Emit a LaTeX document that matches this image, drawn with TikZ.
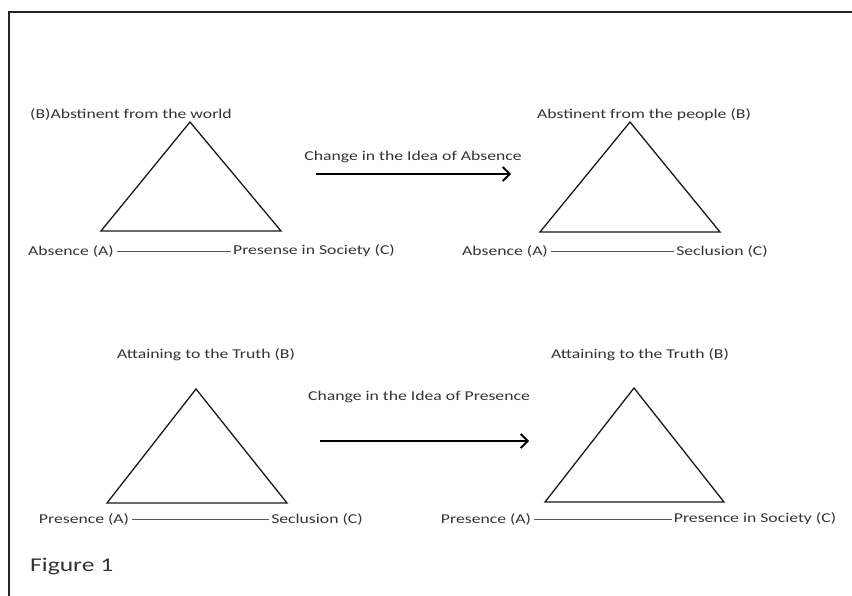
\documentclass[tikz,border=0pt]{standalone}
\usepackage{fontspec}
\setmainfont{Carlito}[FakeStretch=1.31]
\usetikzlibrary{arrows.meta}
\begin{document}
\begin{tikzpicture}[x=1pt,y=-1pt,
  lbl/.style={inner sep=0pt,font=\fontsize{13.5}{15}\selectfont,text=black!80},
  figlbl/.style={inner sep=0pt,font=\fontsize{19.5}{22}\selectfont,text=black!80,anchor=west},
  tri/.style={draw=black!90,line width=1.3pt,line join=miter},
  link/.style={draw=black!65,line width=0.6pt,shorten <=3pt,shorten >=2pt},
  shiftarrow/.style={draw=black,line width=2pt,-{Straight Barb[length=7pt,width=14pt,line width=1.8pt]}}]
\useasboundingbox (0,0) rectangle (852,596);
% frame
\draw[line width=1.6pt,black!85] (9,596) -- (9,12) -- (852,12);
% ---------- top left ----------
\coordinate (t1b) at (190,122);
\coordinate (t1a) at (101,231);
\coordinate (t1c) at (281,231);
\draw[tri] (t1a) -- (t1b) -- (t1c) -- cycle;
\node[lbl] (b1) at (131,115) {(B)Abstinent from the world};
\node[lbl] (a1) at (71,251) {Absence (A)};
\node[lbl] (c1) at (314,251) {Presense in Society (C)};
\draw[link] (a1.east) -- (c1.west);
% ---------- top arrow ----------
\node[lbl] (h1) at (413,157) {Change in the Idea of Absence};
\coordinate (s1) at (316,174);
\coordinate (e1) at (511,174);
\draw[shiftarrow] (s1) -- (e1);
% ---------- top right ----------
\coordinate (t2b) at (630,122);
\coordinate (t2a) at (540,232);
\coordinate (t2c) at (720,232);
\draw[tri] (t2a) -- (t2b) -- (t2c) -- cycle;
\node[lbl] (b2) at (644,115) {Abstinent from the people (B)};
\node[lbl] (a2) at (505,251) {Absence (A)};
\node[lbl] (c2) at (722,251) {Seclusion (C)};
\draw[link] (a2.east) -- (c2.west);
% ---------- bottom left ----------
\coordinate (t3b) at (196,389);
\coordinate (t3a) at (107,503);
\coordinate (t3c) at (287,503);
\draw[tri] (t3a) -- (t3b) -- (t3c) -- cycle;
\node[lbl] (b3) at (206,355) {Attaining to the Truth (B)};
\node[lbl] (a3) at (84,519) {Presence (A)};
\node[lbl] (c3) at (317,519) {Seclusion (C)};
\draw[link] (a3.east) -- (c3.west);
% ---------- bottom arrow ----------
\node[lbl] (h2) at (419,397) {Change in the Idea of Presence};
\coordinate (s2) at (320,441);
\coordinate (e2) at (529,441);
\draw[shiftarrow] (s2) -- (e2);
% ---------- bottom right ----------
\coordinate (t4b) at (634,388);
\coordinate (t4a) at (545,502);
\coordinate (t4c) at (724,502);
\draw[tri] (t4a) -- (t4b) -- (t4c) -- cycle;
\node[lbl] (b4) at (640,355) {Attaining to the Truth (B)};
\node[lbl] (a4) at (486,519) {Presence (A)};
\node[lbl] (c4) at (755,519) {Presence in Society (C)};
\draw[link] (a4.east) -- (c4.west);
% caption
\node[figlbl] (fig) at (30,566) {Figure 1};
\end{tikzpicture}
\end{document}
